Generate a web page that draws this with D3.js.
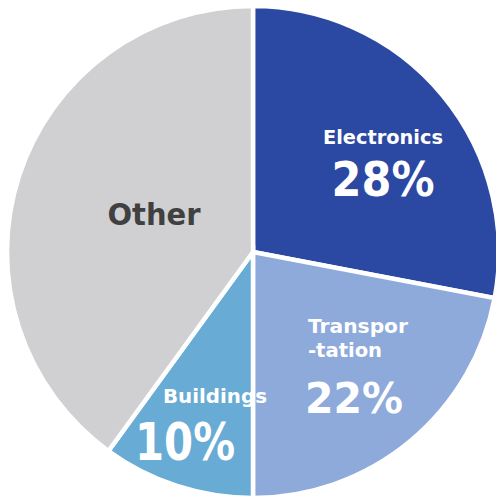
<!DOCTYPE html>
<html>
<head>
<meta charset="utf-8">
<script src="https://cdn.jsdelivr.net/npm/d3@7"></script>
<style>
  html, body { margin: 0; padding: 0; background: #ffffff; }
  svg { display: block; }
</style>
</head>
<body>
<svg id="chart" width="496" height="498"></svg>
<script>
// Share of use by sector (percent)
const categories = ["Electronics", "Transportation", "Buildings", "Other"];
const shares = [28, 22, 10, 40];
const nameLines = [["Electronics"], ["Transpor", "-tation"], ["Buildings"], ["Other"]];
const sliceColors = ["#2b48a2", "#8eaadb", "#68abd4", "#d0d0d2"];

const svg = d3.select("#chart");
const cx = 253, cy = 252, radius = 246;

const pie = d3.pie().sort(null).value(d => d.value).startAngle(0).endAngle(2 * Math.PI);
const arc = d3.arc().innerRadius(0).outerRadius(radius);

const data = categories.map((c, i) => ({ name: c, value: shares[i], lines: nameLines[i], color: sliceColors[i] }));
const arcs = pie(data);

const g = svg.append("g").attr("transform", `translate(${cx},${cy})`);

g.selectAll("path.slice")
  .data(arcs)
  .join("path")
  .attr("class", "slice")
  .attr("d", arc)
  .attr("fill", d => d.data.color)
  .attr("stroke", "#ffffff")
  .attr("stroke-width", 4.5)
  .attr("stroke-linejoin", "miter");

// Label layout per slice, relative to the pie centre
const labelLayout = {
  Electronics:    { anchor: "middle", x: 130, nameY: -108, nameSize: 19, nameW: 120, pctY: -56, pctSize: 48, pctW: 103 },
  Transportation: { anchor: "start",  x: 55,  nameY: 81,  nameSize: 19, nameW: [100, 74], lineGap: 24, pctX: 101, pctY: 161, pctSize: 42, pctW: 98 },
  Buildings:      { anchor: "middle", x: -38, nameY: 151, nameSize: 19, nameW: 104, pctX: -68, pctY: 208, pctSize: 52, pctW: 100 },
  Other:          { anchor: "middle", x: -99, nameY: -27, nameSize: 31, nameW: 93, textColor: "#404040" }
};

const font = "'DejaVu Sans', Verdana, sans-serif";

arcs.forEach(a => {
  const L = labelLayout[a.data.name];
  const color = L.textColor || "#ffffff";
  a.data.lines.forEach((line, i) => {
    const w = Array.isArray(L.nameW) ? L.nameW[i] : L.nameW;
    g.append("text")
      .attr("x", L.x)
      .attr("y", L.nameY + i * (L.lineGap || 0))
      .attr("text-anchor", L.anchor)
      .attr("font-family", font)
      .attr("font-weight", "bold")
      .attr("font-size", L.nameSize)
      .attr("fill", color)
      .attr("textLength", w)
      .attr("lengthAdjust", "spacingAndGlyphs")
      .text(line);
  });
  if (L.pctY !== undefined) {
    g.append("text")
      .attr("x", L.pctX !== undefined ? L.pctX : L.x)
      .attr("y", L.pctY)
      .attr("text-anchor", "middle")
      .attr("font-family", font)
      .attr("font-weight", "bold")
      .attr("font-size", L.pctSize)
      .attr("fill", color)
      .attr("textLength", L.pctW)
      .attr("lengthAdjust", "spacingAndGlyphs")
      .text(a.data.value + "%");
  }
});
</script>
</body>
</html>
